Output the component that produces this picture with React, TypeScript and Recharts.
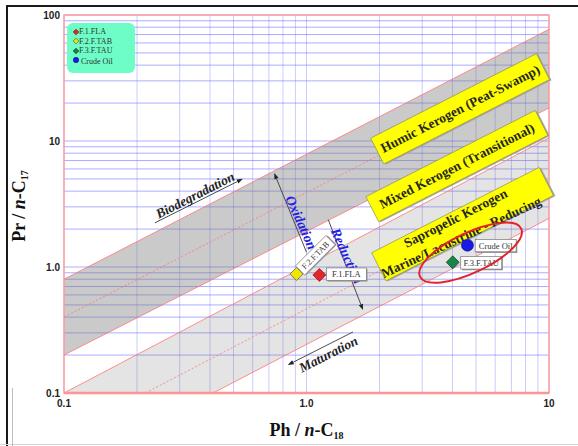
import React from "react";
import {
  ComposedChart,
  Area,
  Line,
  Scatter,
  XAxis,
  YAxis,
  CartesianGrid,
  ReferenceArea,
  ReferenceLine,
  ReferenceDot,
} from "recharts";

// band boundaries, read at the left (Ph = 0.1) and right (Ph = 10) edges
const bandX = [0.1, 10];
const humicTop = [0.8, 77];
const humicMid = [0.4, 38];
const humicBottom = [0.2, 18.3];
const sapTop = [0.1, 10.6];
const sapMid = [0.046, 4.7];
const sapBottom = [0.0243, 2.43];

// samples
const samples = ["F.1.FLA", "F.2.F.TAB", "F.3.F.TAU", "Crude Oil"];
const phC18 = [1.13, 0.91, 4.01, 4.61];
const prC17 = [0.865, 0.88, 1.09, 1.49];

const xTicks = [0.1, 0.2, 0.3, 0.4, 0.5, 0.6, 0.7, 0.8, 0.9, 1, 2, 3, 4, 5, 6, 7, 8, 9, 10];
const yTicks = [
  0.1, 0.2, 0.3, 0.4, 0.5, 0.6, 0.7, 0.8, 0.9, 1, 2, 3, 4, 5, 6, 7, 8, 9, 10, 20, 30, 40, 50,
  60, 70, 80, 90, 100,
];
const xTickLabels: Record<string, string> = { "0.1": "0.1", "1": "1.0", "10": "10" };
const yTickLabels: Record<string, string> = { "0.1": "0.1", "1": "1.0", "10": "10", "100": "100" };

const chartData = bandX.map((x, i) => ({
  x,
  humicTop: humicTop[i],
  humicMid: humicMid[i],
  humicBottom: humicBottom[i],
  sapTop: sapTop[i],
  sapMid: sapMid[i],
  sapBottom: sapBottom[i],
}));

const SERIF = '"Liberation Serif", "Times New Roman", serif';
const SANS = '"Liberation Sans", Arial, sans-serif';
const BAND_ANGLE = -27;

const markerStyle: Record<string, { kind: string; fill: string; stroke: string }> = {
  "F.1.FLA": { kind: "diamond", fill: "#e3262a", stroke: "#8a1010" },
  "F.2.F.TAB": { kind: "square", fill: "#f2e600", stroke: "#555" },
  "F.3.F.TAU": { kind: "diamond", fill: "#15864a", stroke: "#0a4020" },
  "Crude Oil": { kind: "circle", fill: "#1a1ae6", stroke: "#101080" },
};

const tagStyle: Record<string, { dx: number; dy: number; w: number; h: number; rot: number }> = {
  "F.1.FLA": { dx: 7, dy: -7, w: 40, h: 12.5, rot: 0 },
  "F.2.F.TAB": { dx: 5, dy: -6.5, w: 43, h: 13, rot: -45 },
  "F.3.F.TAU": { dx: 8, dy: -5.8, w: 41, h: 12.6, rot: 0 },
  "Crude Oil": { dx: 7.7, dy: -5.8, w: 41, h: 12.4, rot: 0 },
};

function Marker({ name, cx, cy, size = 6.5 }: { name: string; cx: number; cy: number; size?: number }) {
  const m = markerStyle[name];
  if (m.kind === "circle")
    return <circle cx={cx} cy={cy} r={size - 0.5} fill={m.fill} stroke={m.stroke} strokeWidth={0.6} />;
  const s = size;
  const pts = `${cx},${cy - s} ${cx + s},${cy} ${cx},${cy + s} ${cx - s},${cy}`;
  return <polygon points={pts} fill={m.fill} stroke={m.stroke} strokeWidth={0.7} />;
}

function SamplePoint(props: any) {
  const { cx, cy, name } = props;
  if (cx == null || cy == null) return null;
  const t = tagStyle[name];
  return (
    <g>
      <Marker name={name} cx={cx} cy={cy} />
      <g transform={`translate(${cx},${cy}) rotate(${t.rot})`}>
        <rect x={t.dx + 1.2} y={t.dy + 1.2} width={t.w} height={t.h} fill="#9a9a9a" />
        <rect x={t.dx} y={t.dy} width={t.w} height={t.h} fill="#fff" stroke="#777" strokeWidth={0.7} />
        <text
          x={t.dx + t.w / 2}
          y={t.dy + t.h / 2 + 3}
          textAnchor="middle"
          fontFamily={SERIF}
          fontSize={8.5}
          fill="#333"
        >
          {name}
        </text>
      </g>
    </g>
  );
}

function KerogenBox(props: any) {
  const { cx, cy, w, h, lines } = props;
  return (
    <g transform={`translate(${cx},${cy}) rotate(${BAND_ANGLE})`}>
      <rect x={-w / 2 + 1.5} y={-h / 2 + 1.5} width={w} height={h} fill="#a8a8a8" />
      <rect x={-w / 2} y={-h / 2} width={w} height={h} fill="#ffff00" stroke="#8a8a50" strokeWidth={0.6} />
      {lines.map((l: any, i: number) => (
        <text
          key={i}
          transform={`translate(${l.dx},${l.dy}) rotate(${l.rot || 0})`}
          textAnchor="middle"
          fontFamily={SERIF}
          fontWeight="bold"
          fontSize={13.5}
          fill="#262626"
        >
          {l.text}
        </text>
      ))}
    </g>
  );
}

function RotText(props: any) {
  const { cx, cy, text, angle, color, size } = props;
  return (
    <text
      transform={`translate(${cx},${cy}) rotate(${angle})`}
      y={size * 0.35}
      textAnchor="middle"
      fontFamily={SERIF}
      fontWeight="bold"
      fontStyle="italic"
      fontSize={size}
      fill={color}
    >
      {text}
    </text>
  );
}

function Arrow(props: any) {
  const { x1, y1, x2, y2 } = props;
  const a = Math.atan2(y2 - y1, x2 - x1);
  const L = 6;
  const W = 2.2;
  const bx = x2 - L * Math.cos(a);
  const by = y2 - L * Math.sin(a);
  const pts = `${x2},${y2} ${bx + W * Math.sin(a)},${by - W * Math.cos(a)} ${bx - W * Math.sin(a)},${by + W * Math.cos(a)}`;
  return (
    <g>
      <line x1={x1} y1={y1} x2={bx} y2={by} stroke="#3a3a3a" strokeWidth={0.9} />
      <polygon points={pts} fill="#222" />
    </g>
  );
}

function Ellipse(props: any) {
  const { cx, cy } = props;
  return (
    <ellipse
      cx={cx}
      cy={cy}
      rx={56}
      ry={20}
      transform={`rotate(-25.4 ${cx} ${cy})`}
      fill="none"
      stroke="#e3232b"
      strokeWidth={2}
    />
  );
}

const arrows = [
  [
    [0.237, 2.24],
    [0.546, 5.01],
  ],
  [
    [1.0, 1.31],
    [0.736, 5.57],
  ],
  [
    [1.23, 2.37],
    [1.71, 0.455],
  ],
  [
    [1.555, 0.305],
    [0.837, 0.167],
  ],
];

export default function App() {
  const edge = { stroke: "#ff7474", strokeWidth: 0.8, dot: false, isAnimationActive: false, type: "linear" as const };
  return (
    <div
      style={{
        position: "fixed",
        left: 0,
        top: 0,
        width: 578,
        height: 446,
        background: "#fff",
        overflow: "hidden",
      }}
    >
      <div
        style={{
          position: "absolute",
          left: 6,
          top: 5,
          width: 600,
          height: 460,
          borderTop: "2px solid #1a1a1a",
          borderLeft: "2px solid #1a1a1a",
        }}
      />
      <div style={{ position: "absolute", left: 0, top: 444, width: 578, height: 1, background: "#d6d6d6" }} />
      <div style={{ position: "absolute", left: 12, top: 388, width: 1, height: 58, background: "#bdbdbd" }} />
      <div style={{ position: "absolute", left: 0, top: 0 }}>
        <ComposedChart width={578} height={446} data={chartData} margin={{ top: 15, right: 29, bottom: 33, left: 0 }}>
          <XAxis
            dataKey="x"
            type="number"
            scale="log"
            domain={[0.1, 10]}
            allowDataOverflow
            ticks={xTicks}
            interval={0}
            height={20}
            tickLine={false}
            tickSize={5}
            tickMargin={2}
            axisLine={false}
            tick={{ fontFamily: SANS, fontWeight: "bold", fontSize: 10, fill: "#222" }}
            tickFormatter={(v: number) => xTickLabels[String(v)] || ""}
            label={{
              content: (p: any) => {
                const vb = p.viewBox;
                return (
                  <text
                    x={vb.x + vb.width / 2}
                    y={vb.y + 43}
                    textAnchor="middle"
                    fontFamily={SERIF}
                    fontWeight="bold"
                    fontSize={18}
                    fill="#111"
                  >
                    Ph / <tspan fontStyle="italic">n</tspan>-C
                    <tspan fontSize={10} dy={3}>
                      18
                    </tspan>
                  </text>
                );
              },
            }}
          />
          <YAxis
            type="number"
            scale="log"
            domain={[0.1, 100]}
            allowDataOverflow
            ticks={yTicks}
            interval={0}
            width={64}
            tickLine={false}
            tickSize={3}
            tickMargin={1}
            axisLine={false}
            tick={{ fontFamily: SANS, fontWeight: "bold", fontSize: 10, fill: "#222" }}
            tickFormatter={(v: number) => yTickLabels[String(v)] || ""}
            label={{
              content: (p: any) => {
                const vb = p.viewBox;
                const cy = vb.y + vb.height / 2 + 2;
                return (
                  <text
                    transform={`translate(25,${cy}) rotate(-90)`}
                    textAnchor="middle"
                    fontFamily={SERIF}
                    fontWeight="bold"
                    fontSize={18}
                    fill="#111"
                  >
                    Pr / <tspan fontStyle="italic">n</tspan>-C
                    <tspan fontSize={10} dy={3}>
                      17
                    </tspan>
                  </text>
                );
              },
            }}
          />
          <Area
            dataKey={(d: any) => [d.humicBottom, d.humicTop]}
            type="linear"
            stroke="none"
            fill="#7a7a7a"
            fillOpacity={0.4}
            isAnimationActive={false}
          />
          <Area
            dataKey={(d: any) => [d.sapBottom, d.sapTop]}
            type="linear"
            stroke="none"
            fill="#7a7a7a"
            fillOpacity={0.2}
            isAnimationActive={false}
          />
          <CartesianGrid vertical={false} stroke="#5c5cff" strokeOpacity={0.5} strokeWidth={1} />
          <CartesianGrid horizontal={false} stroke="#6a6aff" strokeOpacity={0.35} strokeWidth={1} />
          <Line dataKey="humicTop" {...edge} />
          <Line dataKey="humicBottom" {...edge} />
          <Line dataKey="humicMid" {...edge} strokeDasharray="2 2" />
          <Line dataKey="sapTop" {...edge} />
          <Line dataKey="sapBottom" {...edge} />
          <Line dataKey="sapMid" {...edge} strokeDasharray="2 2" />
          <ReferenceArea x1={0.1} x2={10} y1={0.1} y2={100} fill="none" stroke="#ffa0a0" strokeWidth={1.5} />
          <ReferenceLine segment={[{ x: 0.1, y: 0.1 }, { x: 10, y: 0.1 }]} stroke="#ff9494" strokeWidth={2.5} />
          {arrows.map((a, i) => (
            <ReferenceLine
              key={"arr" + i}
              segment={[
                { x: a[0][0], y: a[0][1] },
                { x: a[1][0], y: a[1][1] },
              ]}
              shape={(p: any) => <Arrow {...p} />}
            />
          ))}
          <ReferenceDot
            x={0.347}
            y={3.73}
            r={1}
            shape={(p: any) => <RotText {...p} text="Biodegradation" angle={BAND_ANGLE} color="#222" size={13.5} />}
          />
          <ReferenceDot
            x={1.23}
            y={0.204}
            r={1}
            shape={(p: any) => <RotText {...p} text="Maturation" angle={BAND_ANGLE} color="#222" size={13.5} />}
          />
          <ReferenceDot
            x={0.953}
            y={2.26}
            r={1}
            shape={(p: any) => <RotText {...p} text="Oxidation" angle={65.7} color="#2020e8" size={14} />}
          />
          <ReferenceDot
            x={1.47}
            y={1.23}
            r={1}
            shape={(p: any) => <RotText {...p} text="Reduction" angle={65.7} color="#2020e8" size={14} />}
          />
          <ReferenceDot
            x={4.3}
            y={18.0}
            r={1}
            shape={(p: any) => (
              <KerogenBox {...p} w={186} h={29} lines={[{ text: "Humic Kerogen  (Peat-Swamp)", dx: 0, dy: 4.5 }]} />
            )}
          />
          <ReferenceDot
            x={4.17}
            y={6.33}
            r={1}
            shape={(p: any) => (
              <KerogenBox {...p} w={190} h={28} lines={[{ text: "Mixed Kerogen (Transitional)", dx: 0, dy: 4.5 }]} />
            )}
          />
          <ReferenceDot
            x={4.4}
            y={2.19}
            r={1}
            shape={(p: any) => (
              <KerogenBox
                {...p}
                w={188}
                h={31.5}
                lines={[
                  { text: "Sapropelic Kerogen", dx: -3.5, dy: -4 },
                  { text: "Marine/Lacustrine - Reducing", dx: -7.4, dy: 15.5, rot: 2 },
                ]}
              />
            )}
          />
          {samples.map((s, i) => (
            <Scatter
              key={s}
              name={s}
              data={[{ x: phC18[i], y: prC17[i] }]}
              dataKey="y"
              isAnimationActive={false}
              shape={(p: any) => <SamplePoint {...p} name={s} />}
            />
          ))}
          <ReferenceDot x={4.75} y={1.3} r={1} shape={(p: any) => <Ellipse {...p} />} />
        </ComposedChart>
      </div>
      <div
        style={{
          position: "absolute",
          left: 67,
          top: 23,
          width: 68,
          height: 50,
          borderRadius: 6,
          background: "#6dfdc6",
          fontFamily: SERIF,
          fontSize: 8,
          color: "#333",
          boxSizing: "border-box",
          paddingTop: 4,
          paddingLeft: 12,
        }}
      >
        {samples.map((s, i) => (
          <div key={s} style={{ position: "relative", height: i === 2 ? 10.5 : 9.5, lineHeight: "9.5px" }}>
            <svg width={8} height={8} style={{ position: "absolute", left: -7, top: i === 3 ? -1 : 0.5 }}>
              <Marker name={s} cx={4} cy={4} size={i === 3 ? 3.2 : 2.8} />
            </svg>
            <span style={{ marginLeft: i === 3 ? 2 : 0 }}>{s}</span>
          </div>
        ))}
      </div>
    </div>
  );
}
